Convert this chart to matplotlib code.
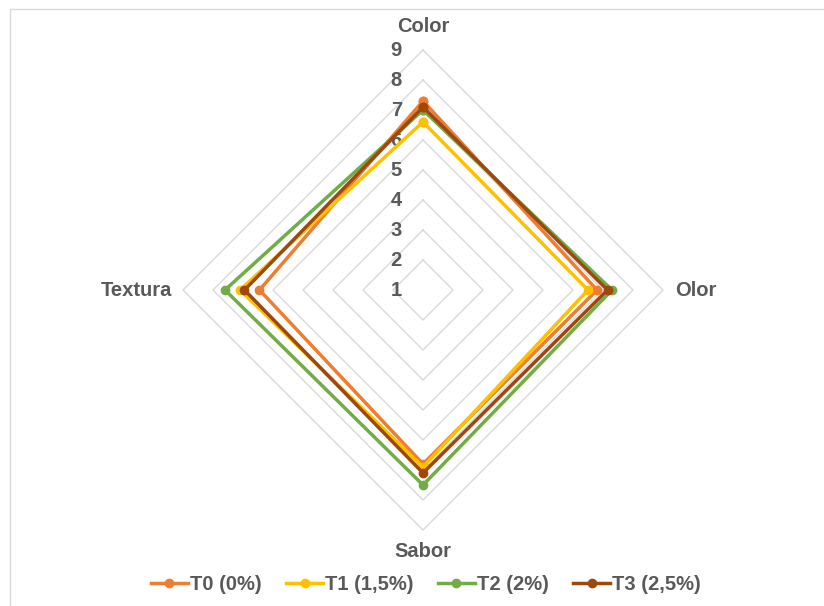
import numpy as np
import matplotlib
matplotlib.use("Agg")
import matplotlib.pyplot as plt
from matplotlib.patches import Rectangle

plt.rcParams['font.family'] = ['Liberation Sans', 'DejaVu Sans']

# Sensory attributes (clockwise from top) and scores per treatment
categories = ["Color", "Olor", "Sabor", "Textura"]
series_names = ["T0 (0%)", "T1 (1,5%)", "T2 (2%)", "T3 (2,5%)"]
t0 = [7.3, 6.8, 6.8, 6.45]
t1 = [6.6, 6.5, 6.9, 7.1]
t2 = [7.0, 7.3, 7.5, 7.6]
t3 = [7.1, 7.15, 7.1, 6.95]
scale_ticks = [1, 2, 3, 4, 5, 6, 7, 8, 9]

colors = ["#ED7D31", "#FFC000", "#70AD47", "#9E480E"]
text_color = "#595959"
grid_color = "#D9D9D9"
fs = 14.5

r_min, r_max = scale_ticks[0], scale_ticks[-1]
angles = np.deg2rad([90, 0, -90, 180])


def to_xy(values):
    r = np.asarray(values, dtype=float) - r_min
    x = r * np.cos(angles)
    y = r * np.sin(angles)
    return np.append(x, x[0]), np.append(y, y[0])


W, H, DPI = 824, 606, 100
fig = plt.figure(figsize=(W / DPI, H / DPI), dpi=DPI)
ax = fig.add_axes([0, 0, 1, 1])
unit = 30.0  # pixels per scale unit
cx, cy = 423, 290
ax.set_xlim(-cx / unit, (W - cx) / unit)
ax.set_ylim(-(H - cy) / unit, cy / unit)
ax.axis("off")

# chart frame
fig.patches.append(Rectangle((10 / W, -0.1), 1.2, 1 - 9 / H + 0.1,
                             transform=fig.transFigure, fill=False,
                             edgecolor="#D9D9D9", linewidth=1.0))

# polygon gridlines
for lvl in scale_ticks[1:]:
    gx, gy = to_xy([lvl] * len(categories))
    ax.plot(gx, gy, color=grid_color, linewidth=1.0, zorder=1)

# scale labels along the top axis
for lvl in scale_ticks:
    ax.text(-0.7, lvl - r_min, str(lvl), ha="right", va="center",
            fontsize=fs, fontweight="bold", color=text_color, zorder=2)

# category labels
R = r_max - r_min
ax.text(0.0, R + 0.8, categories[0], ha="center", va="center",
        fontsize=fs, fontweight="bold", color=text_color)
ax.text(R + 0.4, 0, categories[1], ha="left", va="center",
        fontsize=fs, fontweight="bold", color=text_color)
ax.text(0.0, -(R + 0.73), categories[2], ha="center", va="center",
        fontsize=fs, fontweight="bold", color=text_color)
ax.text(-(R + 0.37), 0, categories[3], ha="right", va="center",
        fontsize=fs, fontweight="bold", color=text_color)

handles = []
for name, vals, col in zip(series_names, [t0, t1, t2, t3], colors):
    sx, sy = to_xy(vals)
    h, = ax.plot(sx, sy, color=col, linewidth=2.5, marker="o",
                 markersize=6, label=name, zorder=3,
                 solid_joinstyle="miter")
    handles.append(h)

leg = fig.legend(handles=handles, loc="center", bbox_to_anchor=(426 / W, 1 - 585 / H),
                 ncol=4, frameon=False, handlelength=1.85, handletextpad=0.1,
                 columnspacing=1.2, borderpad=0, prop={"size": fs, "weight": "bold"})
for t in leg.get_texts():
    t.set_color(text_color)

fig.savefig("out.png", dpi=DPI)
